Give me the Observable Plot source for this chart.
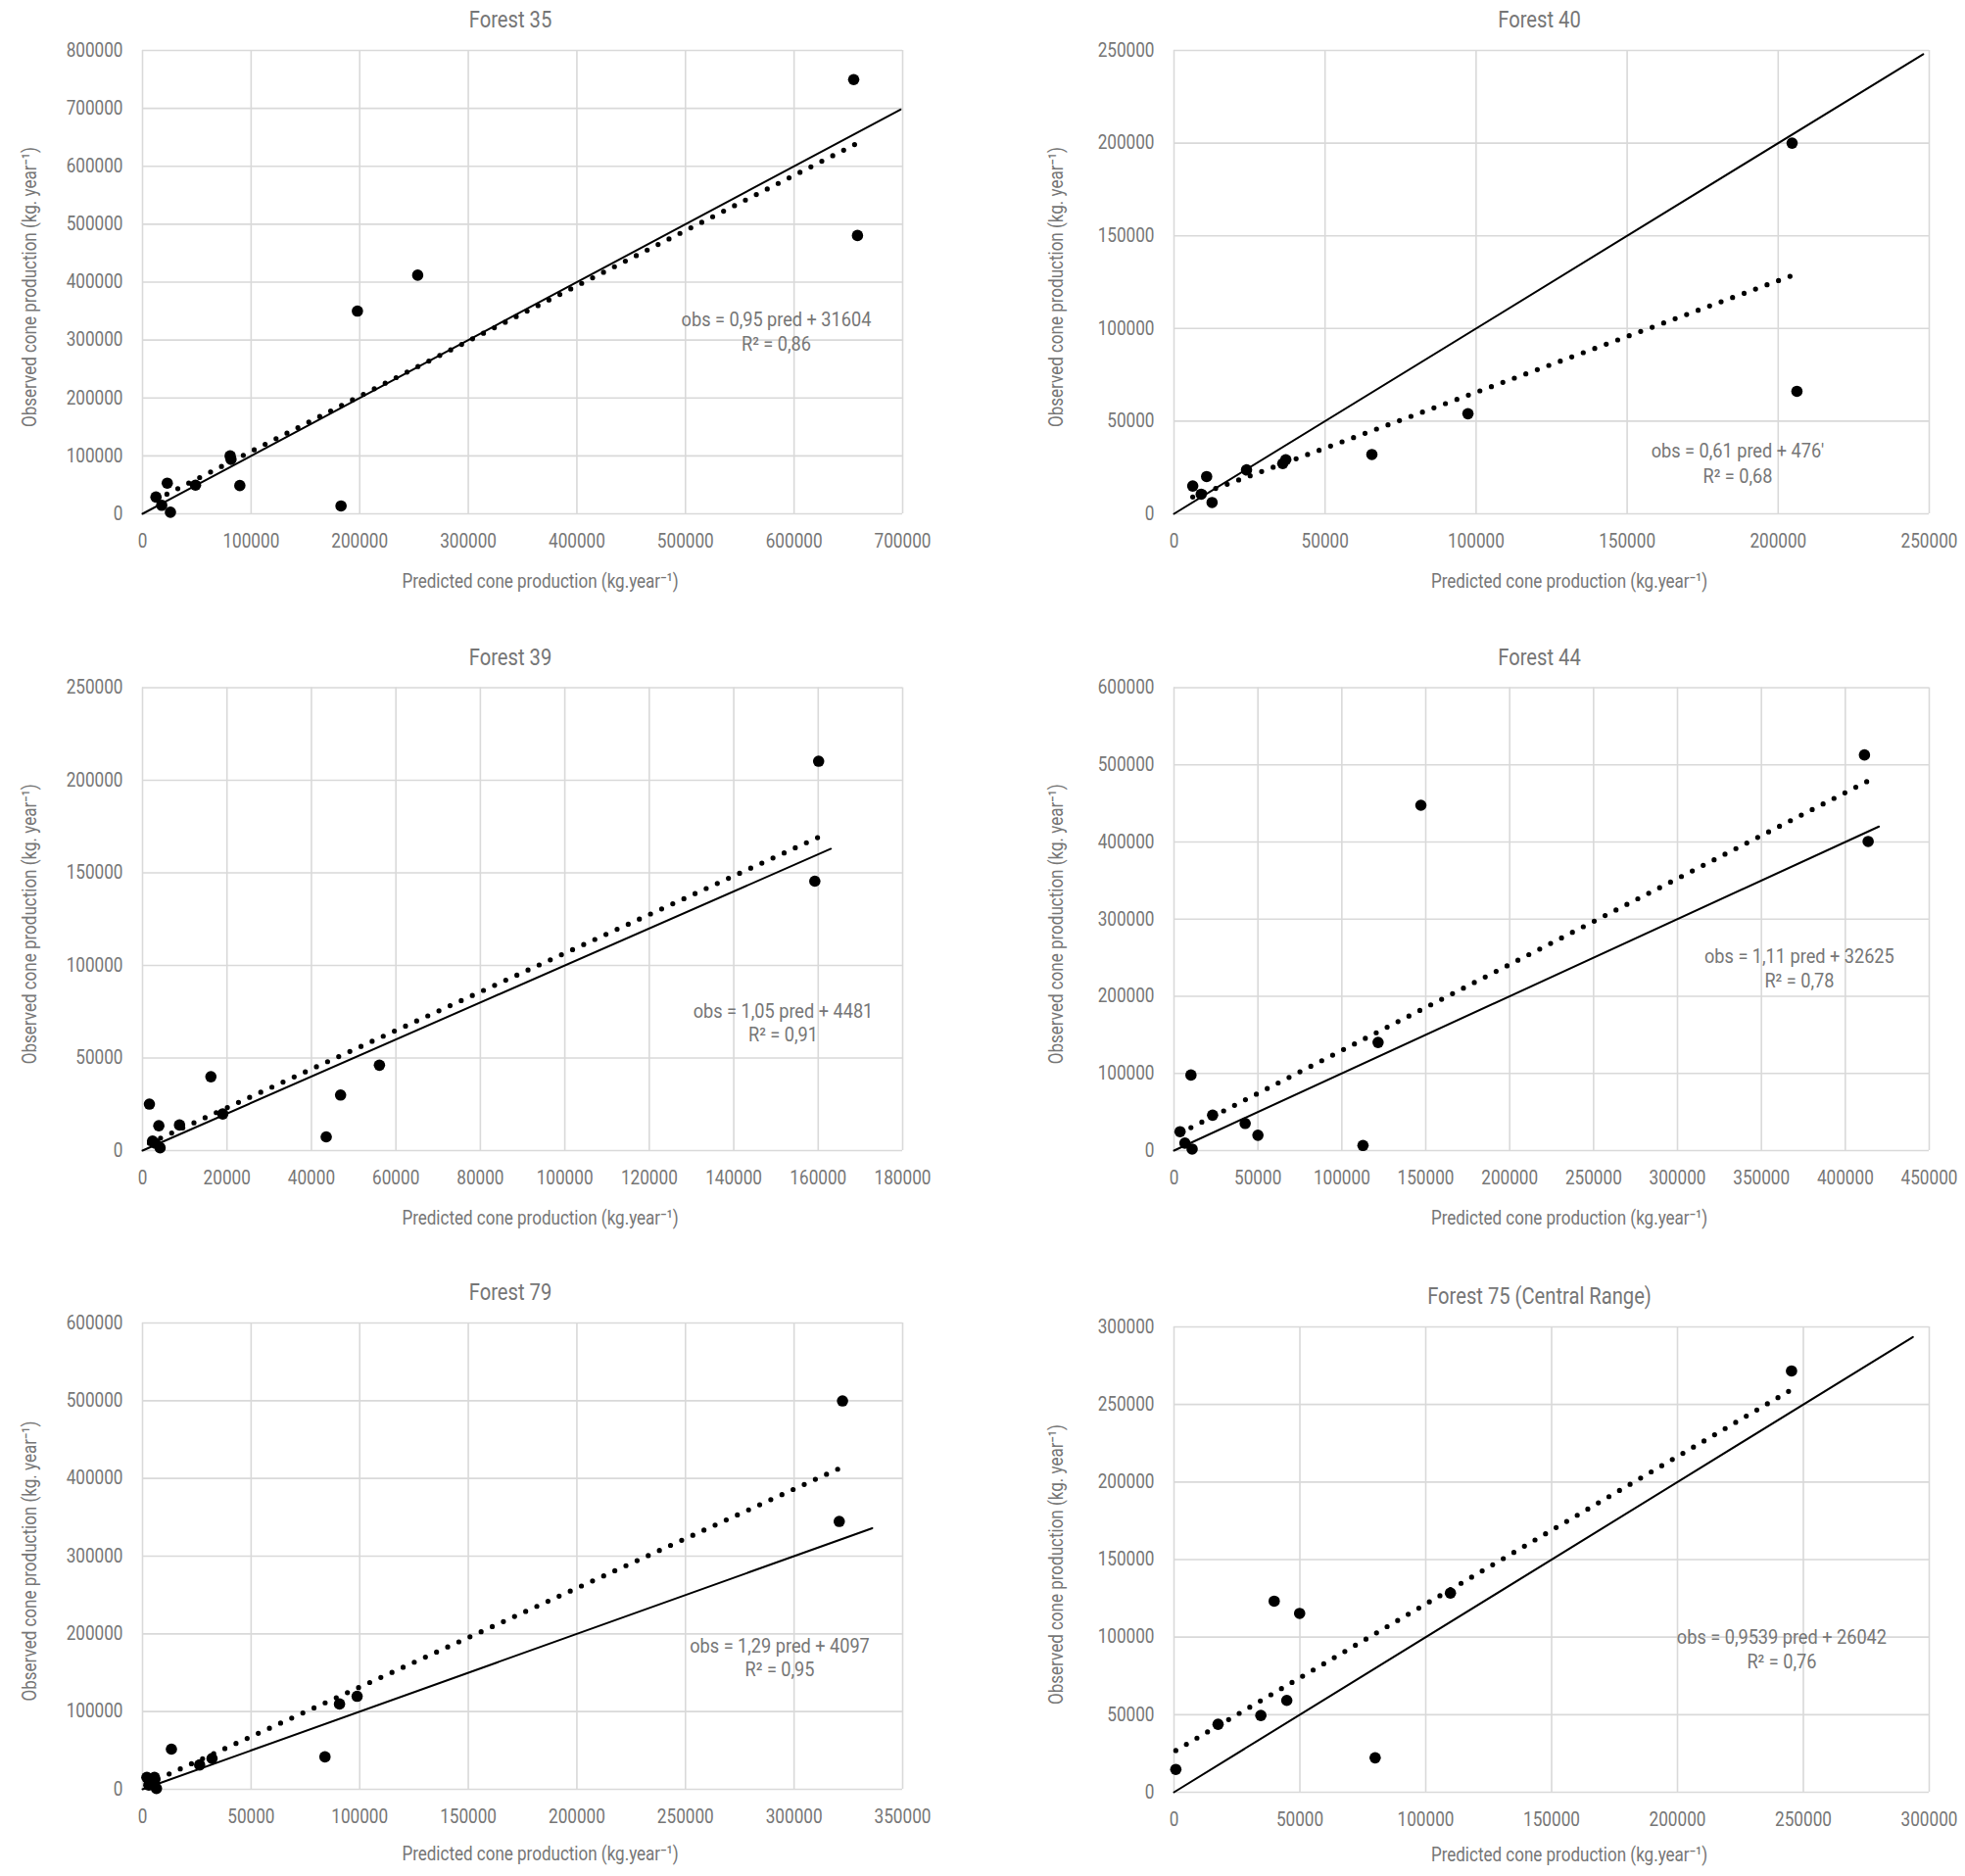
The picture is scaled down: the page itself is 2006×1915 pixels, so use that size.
<!DOCTYPE html>
<html><head><meta charset="utf-8">
<script src="https://cdn.jsdelivr.net/npm/d3@7"></script>
<script src="https://cdn.jsdelivr.net/npm/@observablehq/plot@0.6"></script>
<style>
html,body{margin:0;padding:0;background:#fff;}
#chart{position:relative;width:2006px;height:1915px;overflow:hidden;background:#fff;}
#chart svg{position:absolute;overflow:visible;}
</style></head><body><div id="chart"></div>
<script>
// ---------- DATA ----------
const titles = ["Forest 35", "Forest 40", "Forest 39", "Forest 44", "Forest 79", "Forest 75 (Central Range)"];
const xLabel = "Predicted cone production (kg.year\u207B\u00B9)";
const yLabel = "Observed cone production (kg. year\u207B\u00B9)";

// Forest 35
const f35Pred = [12400, 17700, 22800, 25700, 48800, 80700, 81500, 89600, 182800, 197900, 253400, 654900, 658400];
const f35Obs  = [29000, 14700, 52900, 2700, 49500, 100000, 94000, 48800, 13600, 350000, 412000, 749700, 480500];
const f35Trend = [[12400, 24300], [658400, 640000]];
const f35OneToOne = [0, 698000];
const f35XTicks = [0, 100000, 200000, 300000, 400000, 500000, 600000, 700000];
const f35YTicks = [0, 100000, 200000, 300000, 400000, 500000, 600000, 700000, 800000];
const f35Eq = ["obs = 0,95 pred + 31604", "R\u00B2 = 0,86"];
const f35EqAt = [583600, 335000, 293000];

// Forest 40
const f40Pred = [6200, 9000, 10800, 12600, 24000, 36000, 37000, 65500, 97300, 204600, 206200];
const f40Obs  = [15000, 10600, 20100, 6100, 23700, 27100, 29200, 32000, 54000, 200000, 66100];
const f40Trend = [[6200, 9100], [205000, 128800]];
const f40OneToOne = [0, 248000];
const f40XTicks = [0, 50000, 100000, 150000, 200000, 250000];
const f40YTicks = [0, 50000, 100000, 150000, 200000, 250000];
const f40Eq = ["obs = 0,61 pred + 476'", "R\u00B2 = 0,68"];
const f40EqAt = [186600, 33500, 20100];

// Forest 39
const f39Pred = [1630, 2380, 3000, 3860, 4160, 8760, 16190, 19000, 43500, 46900, 56100, 159200, 160100];
const f39Obs  = [25100, 5100, 4000, 13400, 1500, 13800, 39900, 19800, 7400, 30000, 46100, 145500, 210300];
const f39Trend = [[1630, 4000], [160100, 169300]];
const f39OneToOne = [0, 163000];
const f39XTicks = [0, 20000, 40000, 60000, 80000, 100000, 120000, 140000, 160000, 180000];
const f39YTicks = [0, 50000, 100000, 150000, 200000, 250000];
const f39Eq = ["obs = 1,05 pred + 4481", "R\u00B2 = 0,91"];
const f39EqAt = [151700, 75100, 62400];

// Forest 44
const f44Pred = [3600, 6500, 10100, 10800, 23000, 42400, 50000, 112600, 121600, 147100, 411400, 413600];
const f44Obs  = [24500, 9700, 97900, 2000, 45900, 35200, 19900, 6600, 140200, 447600, 512800, 400700];
const f44Trend = [[3600, 22500], [413600, 479200]];
const f44OneToOne = [0, 420000];
const f44XTicks = [0, 50000, 100000, 150000, 200000, 250000, 300000, 350000, 400000, 450000];
const f44YTicks = [0, 100000, 200000, 300000, 400000, 500000, 600000];
const f44Eq = ["obs = 1,11 pred + 32625", "R\u00B2 = 0,78"];
const f44EqAt = [372600, 251400, 219600];

// Forest 79
const f79Pred = [2000, 2900, 5500, 5500, 6400, 13300, 26300, 32000, 84000, 90700, 98800, 320800, 322300];
const f79Obs  = [15400, 5500, 15400, 11400, 1000, 51700, 31300, 39700, 41700, 109800, 119700, 344700, 499700];
const f79Trend = [[2000, 6700], [320800, 412800]];
const f79OneToOne = [0, 336000];
const f79XTicks = [0, 50000, 100000, 150000, 200000, 250000, 300000, 350000];
const f79YTicks = [0, 100000, 200000, 300000, 400000, 500000, 600000];
const f79Eq = ["obs = 1,29 pred + 4097", "R\u00B2 = 0,95"];
const f79EqAt = [293400, 184000, 153000];

// Forest 75 (Central Range)
const f75Pred = [720, 17500, 34500, 39800, 44800, 49900, 79900, 109800, 245300];
const f75Obs  = [14700, 43800, 49500, 123200, 59200, 115300, 22200, 128400, 271600];
const f75Trend = [[720, 26900], [244600, 258900]];
const f75OneToOne = [0, 293500];
const f75XTicks = [0, 50000, 100000, 150000, 200000, 250000, 300000];
const f75YTicks = [0, 50000, 100000, 150000, 200000, 250000, 300000];
const f75Eq = ["obs = 0,9539 pred + 26042", "R\u00B2 = 0,76"];
const f75EqAt = [241400, 99700, 83900];

// ---------- STYLE ----------
const FONT = 'Roboto, "Liberation Sans", sans-serif';
const TXT = "#767676";
const SIZE = {tick: 19.5, title: 24, label: 20.5, eq: 19.5};
// horizontal condensing (the reference uses a condensed face)
const SQUEEZE = {tick: 0.88, title: 0.84, label: 0.83, eq: 0.93};

// ---------- PANELS ----------
const panels = [
  {title: titles[0], pred: f35Pred, obs: f35Obs, trend: f35Trend, one: f35OneToOne, xt: f35XTicks, yt: f35YTicks, eq: f35Eq, eqAt: f35EqAt},
  {title: titles[1], pred: f40Pred, obs: f40Obs, trend: f40Trend, one: f40OneToOne, xt: f40XTicks, yt: f40YTicks, eq: f40Eq, eqAt: f40EqAt},
  {title: titles[2], pred: f39Pred, obs: f39Obs, trend: f39Trend, one: f39OneToOne, xt: f39XTicks, yt: f39YTicks, eq: f39Eq, eqAt: f39EqAt},
  {title: titles[3], pred: f44Pred, obs: f44Obs, trend: f44Trend, one: f44OneToOne, xt: f44XTicks, yt: f44YTicks, eq: f44Eq, eqAt: f44EqAt},
  {title: titles[4], pred: f79Pred, obs: f79Obs, trend: f79Trend, one: f79OneToOne, xt: f79XTicks, yt: f79YTicks, eq: f79Eq, eqAt: f79EqAt},
  {title: titles[5], pred: f75Pred, obs: f75Obs, trend: f75Trend, one: f75OneToOne, xt: f75XTicks, yt: f75YTicks, eq: f75Eq, eqAt: f75EqAt}
];

const layout = [
  {left: 0,    top: 0,    h: 650, mL: 145, mR: 82, mT: 51,   mB: 126, ylDx: -115, xlDy: 75},
  {left: 1003, top: 0,    h: 650, mL: 195, mR: 37, mT: 51,   mB: 126, ylDx: -120, xlDy: 75},
  {left: 0,    top: 650,  h: 650, mL: 145, mR: 82, mT: 51.5, mB: 126, ylDx: -115, xlDy: 75},
  {left: 1003, top: 650,  h: 650, mL: 195, mR: 37, mT: 51.5, mB: 126, ylDx: -120, xlDy: 75},
  {left: 0,    top: 1300, h: 615, mL: 145, mR: 82, mT: 50,   mB: 89,  ylDx: -115, xlDy: 72},
  {left: 1003, top: 1300, h: 615, mL: 195, mR: 37, mT: 54,   mB: 86,  ylDx: -120, xlDy: 70}
];

const chart = document.getElementById("chart");
const fmt = d => String(d);

panels.forEach((p, i) => {
  const L = layout[i];
  const pts = p.pred.map((x, j) => ({x, y: p.obs[j]}));
  const trend = p.trend.map(([x, y]) => ({x, y}));
  const one = p.one.map(v => ({x: v, y: v}));
  const xmax = p.xt[p.xt.length - 1], ymax = p.yt[p.yt.length - 1];
  const svg = Plot.plot({
    width: 1003, height: L.h,
    marginLeft: L.mL, marginRight: L.mR, marginTop: L.mT, marginBottom: L.mB,
    style: {fontFamily: FONT, fontSize: `${SIZE.tick}px`, color: TXT, background: "white", overflow: "visible"},
    x: {domain: [0, xmax]},
    y: {domain: [0, ymax]},
    marks: [
      Plot.gridX(p.xt, {stroke: "#d9d9d9", strokeOpacity: 1, strokeWidth: 1.6}),
      Plot.gridY(p.yt, {stroke: "#d9d9d9", strokeOpacity: 1, strokeWidth: 1.6}),
      Plot.axisX(p.xt, {tickSize: 0, tickPadding: 21, tickFormat: fmt, label: null, fontSize: SIZE.tick, fill: TXT}),
      Plot.axisY(p.yt, {tickSize: 0, tickPadding: 20, tickFormat: fmt, label: null, fontSize: SIZE.tick, fill: TXT}),
      Plot.line(one, {x: "x", y: "y", stroke: "black", strokeWidth: 2}),
      Plot.line(trend, {x: "x", y: "y", stroke: "black", strokeWidth: 5.2, strokeDasharray: "0 12.5", strokeLinecap: "round"}),
      Plot.dot(pts, {x: "x", y: "y", r: 5.8, fill: "black", stroke: "none"}),
      Plot.text([p.eq[0]], {x: p.eqAt[0], y: p.eqAt[1], text: d => d, fill: TXT, fontSize: SIZE.eq, textAnchor: "middle", lineAnchor: "middle"}),
      Plot.text([p.eq[1]], {x: p.eqAt[0], y: p.eqAt[2], text: d => d, fill: TXT, fontSize: SIZE.eq, textAnchor: "middle", lineAnchor: "middle"}),
      Plot.text([p.title], {frameAnchor: "top", text: d => d, dx: -12.5, dy: -23.3, lineAnchor: "bottom", fill: TXT, fontSize: SIZE.title}),
      Plot.text([xLabel], {frameAnchor: "bottom", text: d => d, dx: 18, dy: L.xlDy, lineAnchor: "bottom", fill: TXT, fontSize: SIZE.label}),
      Plot.text([yLabel], {frameAnchor: "left", text: d => d, dx: L.ylDx, dy: 5, rotate: -90, lineAnchor: "middle", textAnchor: "middle", fill: TXT, fontSize: SIZE.label})
    ]
  });
  svg.style.left = L.left + "px";
  svg.style.top = L.top + "px";
  chart.appendChild(svg);

  // emulate the condensed typeface by squeezing each text horizontally
  svg.querySelectorAll("text").forEach(t => {
    const s = t.textContent;
    let kind = "label";
    if (/^\d+$/.test(s)) kind = "tick";
    else if (s.startsWith("Forest")) kind = "title";
    else if (s.startsWith("obs") || s.startsWith("R")) kind = "eq";
    const len = t.getComputedTextLength();
    if (len > 0) {
      t.setAttribute("textLength", (len * SQUEEZE[kind]).toFixed(2));
      t.setAttribute("lengthAdjust", "spacingAndGlyphs");
    }
  });
});
</script></body></html>
